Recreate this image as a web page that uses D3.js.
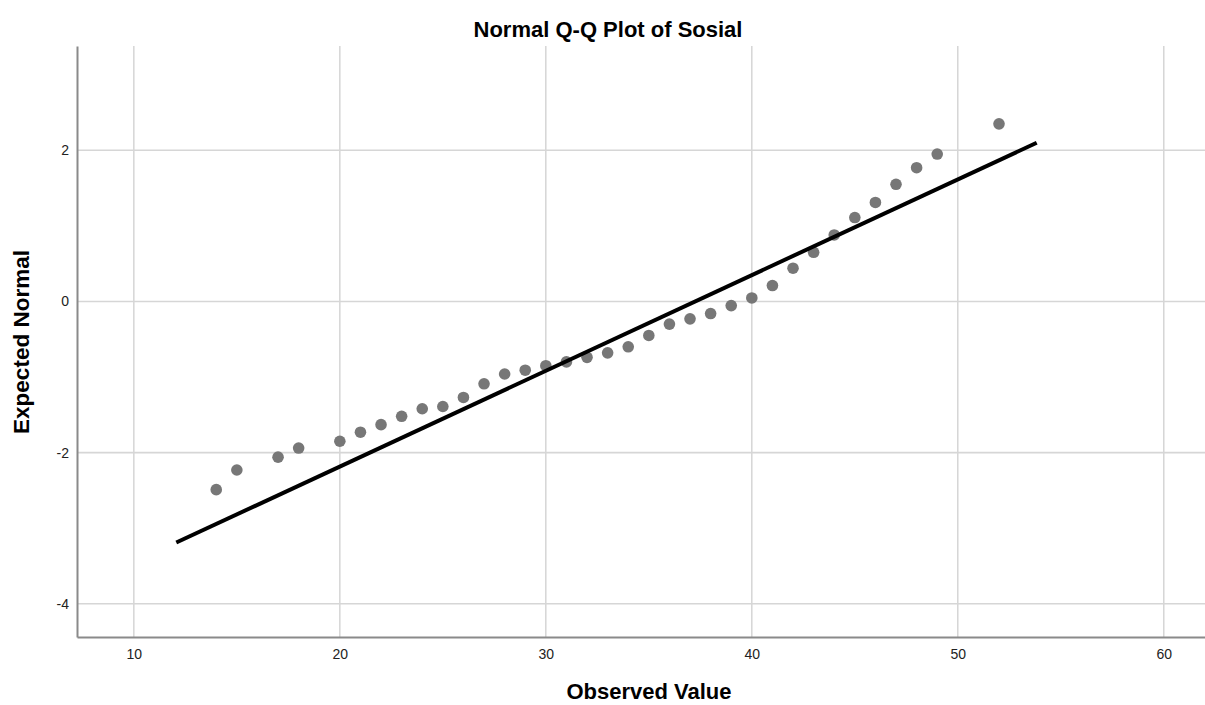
<!DOCTYPE html>
<html>
<head>
<meta charset="utf-8">
<script src="https://cdn.jsdelivr.net/npm/d3@7"></script>
<style>
  body { margin: 0; background: #fff; }
  text { font-family: "Liberation Sans", Arial, sans-serif; }
</style>
</head>
<body>
<div id="chart"></div>
<script>
var observed = [14, 15, 17, 18, 20, 21, 22, 23, 24, 25, 26, 27, 28, 29, 30, 31, 32, 33,
                34, 35, 36, 37, 38, 39, 40, 41, 42, 43, 44, 45, 46, 47, 48, 49, 52];
var expected = [-2.49, -2.23, -2.06, -1.94, -1.85, -1.73, -1.63, -1.52, -1.42, -1.39, -1.27,
                -1.09, -0.96, -0.91, -0.85, -0.80, -0.74, -0.68, -0.60, -0.45, -0.30, -0.23,
                -0.16, -0.055, 0.046, 0.21, 0.44, 0.65, 0.88, 1.11, 1.31, 1.55, 1.77, 1.95, 2.35];

// reference line end points (observed, expected)
var lineX = [12.06, 53.83];
var lineY = [-3.19, 2.10];

var xTicks = [10, 20, 30, 40, 50, 60];
var yTicks = [-4, -2, 0, 2];

var width = 1205, height = 705;
var plot = {left: 77, right: 1205, top: 46, bottom: 637};

var svg = d3.select("#chart").append("svg")
    .attr("width", width)
    .attr("height", height);

var x = d3.scaleLinear()
    .domain([7.24, 62])
    .range([plot.left, plot.right]);

var y = d3.scaleLinear()
    .domain([-4.44, 3.38])
    .range([plot.bottom, plot.top]);

// grid
svg.append("g")
  .selectAll("line")
  .data(xTicks)
  .enter().append("line")
    .attr("x1", function(d) { return x(d); })
    .attr("x2", function(d) { return x(d); })
    .attr("y1", plot.top)
    .attr("y2", plot.bottom)
    .attr("stroke", "#cfcfcf")
    .attr("stroke-width", 1.3);

svg.append("g")
  .selectAll("line")
  .data(yTicks)
  .enter().append("line")
    .attr("x1", plot.left)
    .attr("x2", plot.right)
    .attr("y1", function(d) { return y(d); })
    .attr("y2", function(d) { return y(d); })
    .attr("stroke", "#d6d6d6")
    .attr("stroke-width", 1.6);

// axes (plain hyphen for negatives, like the original)
var fmt = function(d) { return String(d); };
var xAxis = svg.append("g")
    .attr("transform", "translate(0," + plot.bottom + ")")
    .call(d3.axisBottom(x).tickValues(xTicks).tickSize(0).tickPadding(12).tickFormat(fmt));
var yAxis = svg.append("g")
    .attr("transform", "translate(" + plot.left + ",0)")
    .call(d3.axisLeft(y).tickValues(yTicks).tickSize(0).tickPadding(8).tickFormat(fmt));

[xAxis, yAxis].forEach(function(a) {
  a.select(".domain").attr("stroke", "#8a8a8a").attr("stroke-width", 2);
  a.selectAll("text").attr("font-size", 14).attr("fill", "#222")
    .attr("font-family", "'Liberation Sans', Arial, sans-serif");
});

// points
svg.append("g")
  .selectAll("circle")
  .data(observed)
  .enter().append("circle")
    .attr("cx", function(d) { return x(d); })
    .attr("cy", function(d, i) { return y(expected[i]); })
    .attr("r", 5.8)
    .attr("fill", "#777777");

// normal reference line
svg.append("line")
    .attr("x1", x(lineX[0]))
    .attr("y1", y(lineY[0]))
    .attr("x2", x(lineX[1]))
    .attr("y2", y(lineY[1]))
    .attr("stroke", "#000")
    .attr("stroke-width", 4);

// titles
svg.append("text")
    .attr("x", 608)
    .attr("y", 37)
    .attr("text-anchor", "middle")
    .attr("font-size", 22)
    .attr("font-weight", "bold")
    .text("Normal Q-Q Plot of Sosial");

svg.append("text")
    .attr("x", 649)
    .attr("y", 699)
    .attr("text-anchor", "middle")
    .attr("font-size", 22)
    .attr("font-weight", "bold")
    .text("Observed Value");

svg.append("text")
    .attr("transform", "translate(29,342) rotate(-90)")
    .attr("text-anchor", "middle")
    .attr("font-size", 22.5)
    .attr("font-weight", "bold")
    .text("Expected Normal");
</script>
</body>
</html>
